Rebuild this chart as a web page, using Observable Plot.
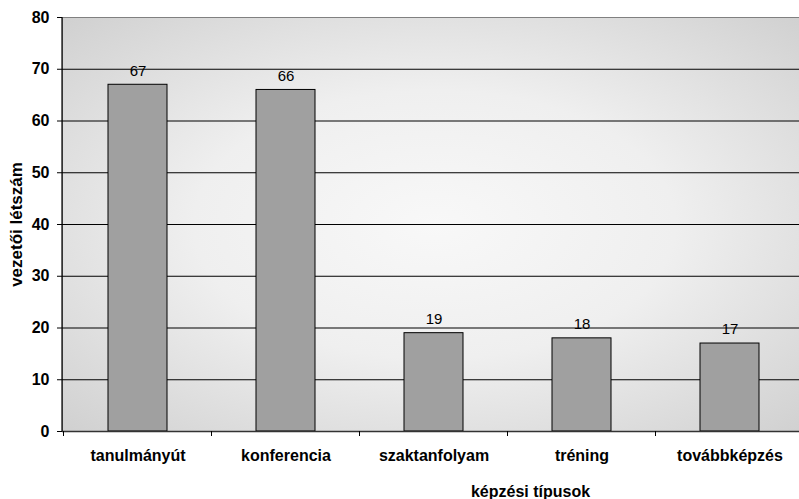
<!DOCTYPE html>
<html>
<head>
<meta charset="utf-8">
<script src="https://cdn.jsdelivr.net/npm/d3@7"></script>
<script src="https://cdn.jsdelivr.net/npm/@observablehq/plot@0.6"></script>
<style>
  html, body { margin: 0; padding: 0; background: #fff; overflow: hidden; }
  #chart { width: 799px; height: 499px; overflow: hidden; }
  svg { display: block; max-width: none !important; }
</style>
</head>
<body>
<div id="chart"></div>
<script>
const categories = ["tanulmányút", "konferencia", "szaktanfolyam", "tréning", "továbbképzés"];
const values = [67, 66, 19, 18, 17];
const yTicks = [0, 10, 20, 30, 40, 50, 60, 70, 80];
const yTitle = "vezetői létszám";
const xTitle = "képzési típusok";

const data = categories.map((c, i) => ({cat: c, v: values[i]}));

function boundaryTicks(index, scales, values, dims) {
  const g = d3.create("svg:g");
  const x = scales.x, y = scales.y;
  const bw = x.bandwidth();
  const step = x.step();
  const y0 = y(0);
  g.append("line")
    .attr("x1", dims.marginLeft).attr("x2", dims.marginLeft)
    .attr("y1", y(80)).attr("y2", y0)
    .attr("stroke", "#000").attr("stroke-width", 1.2);
  const bounds = categories.map(c => x(c) - (step - bw) / 2)
    .concat([x(categories[categories.length - 1]) + bw + (step - bw) / 2]);
  for (const b of bounds) {
    g.append("line")
      .attr("x1", b).attr("x2", b)
      .attr("y1", y0).attr("y2", y0 + 5)
      .attr("stroke", "#000");
  }
  return g.node();
}

const chart = Plot.plot({
  width: 806,
  height: 499,
  marginTop: 17,
  marginBottom: 68,
  marginLeft: 62,
  marginRight: 0,
  style: {fontFamily: "'Liberation Sans', Arial, sans-serif", background: "transparent", maxWidth: "none"},
  x: {domain: categories, paddingInner: 0.6, paddingOuter: 0.3, align: 0.5, label: null},
  y: {domain: [0, 80], label: null},
  marks: [
    Plot.frame({fill: "url(#bggrad)", stroke: "#808080"}),
    Plot.ruleY(yTicks.filter(d => d > 0 && d < 80), {stroke: "#000", strokeWidth: 1.2}),
    Plot.barY(data, {x: "cat", y: "v", fill: "#a0a0a0", stroke: "#000", strokeWidth: 1}),
    Plot.text(data, {x: "cat", y: "v", text: d => String(d.v), dy: -14, fontSize: 15, fill: "#000"}),
    Plot.ruleY([0], {stroke: "#333", strokeWidth: 1.5}),
    Plot.axisY({ticks: yTicks, tickSize: 5, tickPadding: 8, fontSize: 16, fontWeight: "bold", label: yTitle, labelAnchor: "center", labelOffset: 53, labelArrow: "none"}),
    Plot.axisX({tickSize: 0, tickPadding: 18, fontSize: 16, fontWeight: "bold", label: null}),
    Plot.text([xTitle], {frameAnchor: "bottom", dx: 96, dy: 65, fontSize: 16, fontWeight: "bold", fill: "#000"}),
    boundaryTicks
  ]
});

const svg = d3.select(chart);
const defs = svg.insert("defs", ":first-child");
const grad = defs.append("radialGradient").attr("id", "bggrad")
  .attr("cx", "50%").attr("cy", "50%").attr("r", "72%");
grad.append("stop").attr("offset", "0%").attr("stop-color", "#f8f8f8");
grad.append("stop").attr("offset", "45%").attr("stop-color", "#efefef");
grad.append("stop").attr("offset", "100%").attr("stop-color", "#cfcfcf");
svg.selectAll("g[aria-label='y-axis label'] text")
  .attr("font-weight", "bold").attr("font-size", 17);

document.getElementById("chart").appendChild(chart);
</script>
</body>
</html>
